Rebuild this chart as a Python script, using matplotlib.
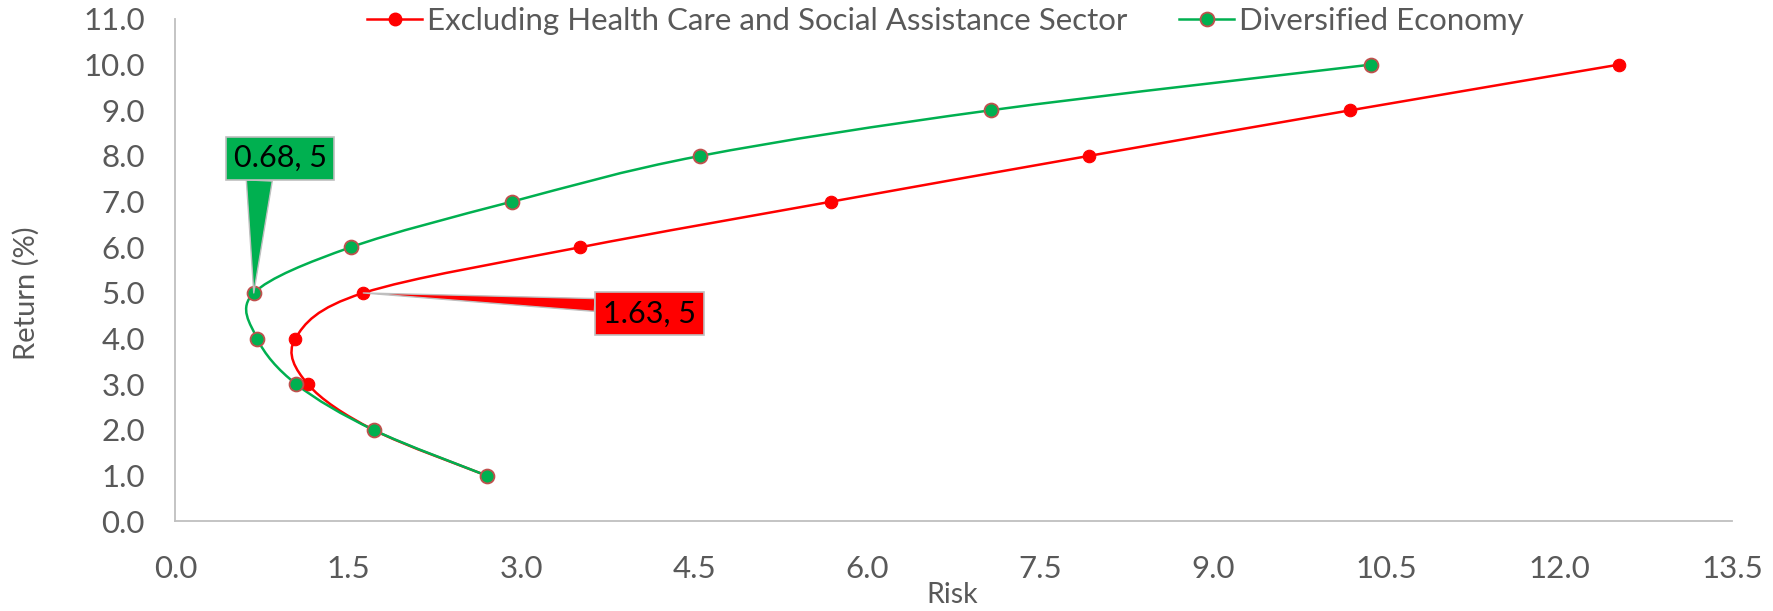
import numpy as np
import matplotlib
matplotlib.use("Agg")
import matplotlib.pyplot as plt
from matplotlib.path import Path
from matplotlib.patches import PathPatch
from matplotlib.lines import Line2D

# ---- data -------------------------------------------------------------
returns = [1, 2, 3, 4, 5, 6, 7, 8, 9, 10]
risk_excl_health = [2.70, 1.72, 1.15, 1.04, 1.63, 3.51, 5.69, 7.92, 10.19, 12.52]
risk_diversified = [2.70, 1.72, 1.05, 0.71, 0.68, 1.52, 2.92, 4.55, 7.07, 10.37]
series_names = ["Excluding Health Care and Social Assistance Sector",
                "Diversified Economy"]
x_ticks = [0.0, 1.5, 3.0, 4.5, 6.0, 7.5, 9.0, 10.5, 12.0, 13.5]
y_ticks = [0.0, 1.0, 2.0, 3.0, 4.0, 5.0, 6.0, 7.0, 8.0, 9.0, 10.0, 11.0]
x_label = "Risk"
y_label = "Return (%)"
# minimum-risk points highlighted with callouts
min_excl = (1.63, 5)
min_div = (0.68, 5)

# ---- style ------------------------------------------------------------
RED = "#FF0000"
GREEN = "#00B050"
EDGE = "#C0504D"
GREY_TXT = "#595959"
SPINE = "#BFBFBF"
FONT = ["Lato", "DejaVu Sans"]
plt.rcParams["font.family"] = FONT


def smooth_path(xs, ys):
    """Piecewise cubic Bezier through all points (Catmull-Rom tangents)."""
    pts = np.column_stack([xs, ys]).astype(float)
    n = len(pts)
    verts = [pts[0]]
    codes = [Path.MOVETO]
    for i in range(n - 1):
        p0 = pts[i - 1] if i > 0 else pts[i]
        p1 = pts[i]
        p2 = pts[i + 1]
        p3 = pts[i + 2] if i + 2 < n else pts[i + 1]
        c1 = p1 + (p2 - p0) / 6.0
        c2 = p2 - (p3 - p1) / 6.0
        verts += [c1, c2, p2]
        codes += [Path.CURVE4] * 3
    return Path(verts, codes)


fig = plt.figure(figsize=(17.73, 6.11), dpi=100)
ax = fig.add_axes([0.0989, 0.1468, 0.8780, 0.8222])

lw = 1.8
for xs, color in ((risk_excl_health, RED), (risk_diversified, GREEN)):
    ax.add_patch(PathPatch(smooth_path(xs, returns), fill=False,
                           edgecolor=color, lw=lw, capstyle="round",
                           joinstyle="round", zorder=2))

ax.plot(risk_excl_health, returns, linestyle="none", marker="o",
        markersize=9, markerfacecolor=RED, markeredgecolor=RED,
        markeredgewidth=0.8, zorder=3)
ax.plot(risk_diversified, returns, linestyle="none", marker="o",
        markersize=10, markerfacecolor=GREEN, markeredgecolor=EDGE,
        markeredgewidth=1.3, zorder=4)

ax.set_xlim(x_ticks[0], x_ticks[-1])
ax.set_ylim(y_ticks[0], y_ticks[-1])
ax.set_xticks(x_ticks)
ax.set_yticks(y_ticks)
ax.set_xticklabels([f"{v:.1f}" for v in x_ticks])
ax.set_yticklabels([f"{v:.1f}" for v in y_ticks])
ax.tick_params(axis="both", length=0, labelsize=22.5, labelcolor=GREY_TXT)
ax.tick_params(axis="x", pad=24)
ax.tick_params(axis="y", pad=22)

for side in ("top", "right"):
    ax.spines[side].set_visible(False)
for side in ("left", "bottom"):
    ax.spines[side].set_color(SPINE)
    ax.spines[side].set_linewidth(1.3)

ax.set_xlabel(x_label, fontsize=20.5, color=GREY_TXT, va="baseline")
ax.xaxis.set_label_coords(0.4988, -0.163)
ax.set_ylabel(y_label, fontsize=21, color=GREY_TXT)
ax.yaxis.set_label_coords(-0.0869, 0.4545)

# callouts
ax.annotate(f"{min_div[0]:.2f}, {min_div[1]:g}", xy=min_div,
            xytext=(19, 97), textcoords="offset points",
            ha="center", va="center", fontsize=22, color="black",
            bbox=dict(boxstyle="square,pad=0.25", fc=GREEN, ec=SPINE, lw=1.2),
            arrowprops=dict(arrowstyle="wedge,tail_width=0.85,shrink_factor=0.5",
                            fc=GREEN, ec=SPINE, lw=1.0, relpos=(0.28, 0.0),
                            shrinkA=0, shrinkB=0),
            zorder=6)
ax.annotate(f"{min_excl[0]:.2f}, {min_excl[1]:g}", xy=min_excl,
            xytext=(206, -15), textcoords="offset points",
            ha="center", va="center", fontsize=22, color="black",
            bbox=dict(boxstyle="square,pad=0.25", fc=RED, ec=SPINE, lw=1.2),
            arrowprops=dict(arrowstyle="wedge,tail_width=0.42,shrink_factor=0.5",
                            fc=RED, ec=SPINE, lw=1.0, relpos=(0.0, 0.8),
                            shrinkA=0, shrinkB=0),
            zorder=6)

handles = [
    Line2D([], [], color=RED, lw=lw, marker="o", markersize=9,
           markerfacecolor=RED, markeredgecolor=RED),
    Line2D([], [], color=GREEN, lw=lw, marker="o", markersize=10,
           markerfacecolor=GREEN, markeredgecolor=EDGE, markeredgewidth=1.3),
]
fig.legend(handles, series_names, loc="center", bbox_to_anchor=(0.5333, 0.9656),
           ncol=2, frameon=False, fontsize=22.5, labelcolor=GREY_TXT,
           handlelength=1.75, handletextpad=0.16, columnspacing=1.66,
           borderaxespad=0, borderpad=0)

fig.savefig("out.png", dpi=100)
